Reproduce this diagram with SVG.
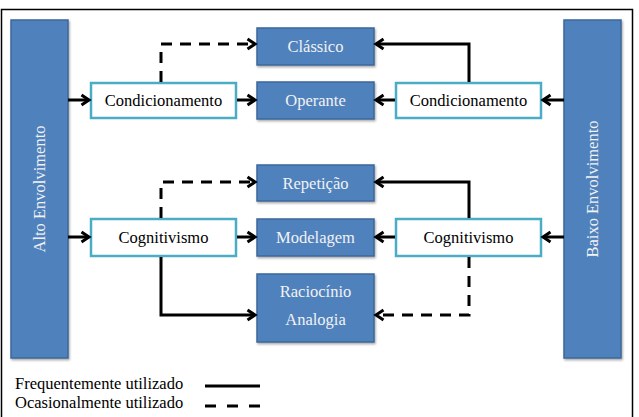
<svg xmlns="http://www.w3.org/2000/svg" width="639" height="417" viewBox="0 0 639 417" font-family="'Liberation Serif', 'Times New Roman', serif" font-size="16.5">
  <style>
    text { font-family: "Liberation Serif", "Times New Roman", serif; font-size: 16.5px; }
    .blue { fill: #4F81BD; stroke: #3C679A; stroke-width: 1.5; }
    .white { fill: #FFFFFF; stroke: #4BACC6; stroke-width: 2.5; }
    .lt { fill: #F2F2F2; text-anchor: middle; }
    .dk { fill: #000000; text-anchor: middle; }
    .solid { fill: none; stroke: #000; stroke-width: 3; }
    .dash { fill: none; stroke: #000; stroke-width: 3; stroke-dasharray: 11 8; }
  </style>
  <defs>
    <marker id="arr" markerUnits="userSpaceOnUse" markerWidth="12" markerHeight="14" refX="9" refY="6" orient="auto" overflow="visible">
      <path d="M1.5,1 L9,6 L1.5,11" fill="none" stroke="#000" stroke-width="3" stroke-linejoin="miter"/>
    </marker>
    <filter id="sh" x="-10%" y="-10%" width="130%" height="130%">
      <feDropShadow dx="1" dy="1.5" stdDeviation="1.2" flood-color="#000" flood-opacity="0.35"/>
    </filter>
  </defs>

  <rect x="0" y="0" width="639" height="417" fill="#FFFFFF"/>
  <rect id="frame" x="1.5" y="9.5" width="631" height="420" fill="none" stroke="#000" stroke-width="1.5"/>

  <g id="alto">
    <rect class="blue" x="11" y="20" width="57" height="338" filter="url(#sh)"/>
    <text class="lt" transform="translate(45,189) rotate(-90)">Alto Envolvimento</text>
  </g>
  <g id="baixo">
    <rect class="blue" x="564" y="20" width="57" height="338" filter="url(#sh)"/>
    <text class="lt" transform="translate(598,189) rotate(-90)">Baixo Envolvimento</text>
  </g>

  <g id="classico">
    <rect class="blue" x="257" y="28" width="117" height="37" filter="url(#sh)"/>
    <text class="lt" x="315.5" y="51.5">Clássico</text>
  </g>
  <g id="operante">
    <rect class="blue" x="257" y="82" width="117" height="37" filter="url(#sh)"/>
    <text class="lt" x="315.5" y="105.5">Operante</text>
  </g>
  <g id="repeticao">
    <rect class="blue" x="257" y="165" width="117" height="36" filter="url(#sh)"/>
    <text class="lt" x="315.5" y="188.5">Repetição</text>
  </g>
  <g id="modelagem">
    <rect class="blue" x="257" y="219" width="117" height="37" filter="url(#sh)"/>
    <text class="lt" x="315.5" y="242.5">Modelagem</text>
  </g>
  <g id="raciocinio">
    <rect class="blue" x="257" y="274" width="117" height="68" filter="url(#sh)"/>
    <text class="lt" x="315.5" y="297">Raciocínio</text>
    <text class="lt" x="315.5" y="325">Analogia</text>
  </g>

  <g id="cond-esq">
    <rect class="white" x="91" y="83" width="145" height="35"/>
    <text class="dk" x="163.5" y="105.5">Condicionamento</text>
  </g>
  <g id="cond-dir">
    <rect class="white" x="396" y="83" width="145" height="35"/>
    <text class="dk" x="468.5" y="105.5">Condicionamento</text>
  </g>
  <g id="cog-esq">
    <rect class="white" x="91" y="219" width="145" height="37"/>
    <text class="dk" x="163.5" y="242.5">Cognitivismo</text>
  </g>
  <g id="cog-dir">
    <rect class="white" x="396" y="219" width="145" height="37"/>
    <text class="dk" x="468.5" y="242.5">Cognitivismo</text>
  </g>

  <g id="connectors">
    <path class="solid" d="M68,100 H89" marker-end="url(#arr)"/>
    <path class="solid" d="M237,100 H255" marker-end="url(#arr)"/>
    <path class="dash" d="M161,82 V44 H255" marker-end="url(#arr)"/>
    <path class="solid" d="M564,100 H543" marker-end="url(#arr)"/>
    <path class="solid" d="M395,100 H376" marker-end="url(#arr)"/>
    <path class="solid" d="M469,82 V44 H376" marker-end="url(#arr)"/>

    <path class="solid" d="M68,237 H89" marker-end="url(#arr)"/>
    <path class="solid" d="M237,237 H255" marker-end="url(#arr)"/>
    <path class="dash" d="M161,218 V182 H255" marker-end="url(#arr)"/>
    <path class="solid" d="M161,257 V315 H255" marker-end="url(#arr)"/>
    <path class="solid" d="M564,237 H543" marker-end="url(#arr)"/>
    <path class="solid" d="M395,237 H376" marker-end="url(#arr)"/>
    <path class="solid" d="M469,218 V182 H376" marker-end="url(#arr)"/>
    <path class="dash" d="M469,257 V315 H376" marker-end="url(#arr)"/>
  </g>

  <g id="legend">
    <text x="15" y="389">Frequentemente utilizado</text>
    <text x="15" y="408">Ocasionalmente utilizado</text>
    <path class="solid" d="M205,386 H260"/>
    <path class="solid" d="M205,406 H260" stroke-dasharray="11 11"/>
  </g>
</svg>
